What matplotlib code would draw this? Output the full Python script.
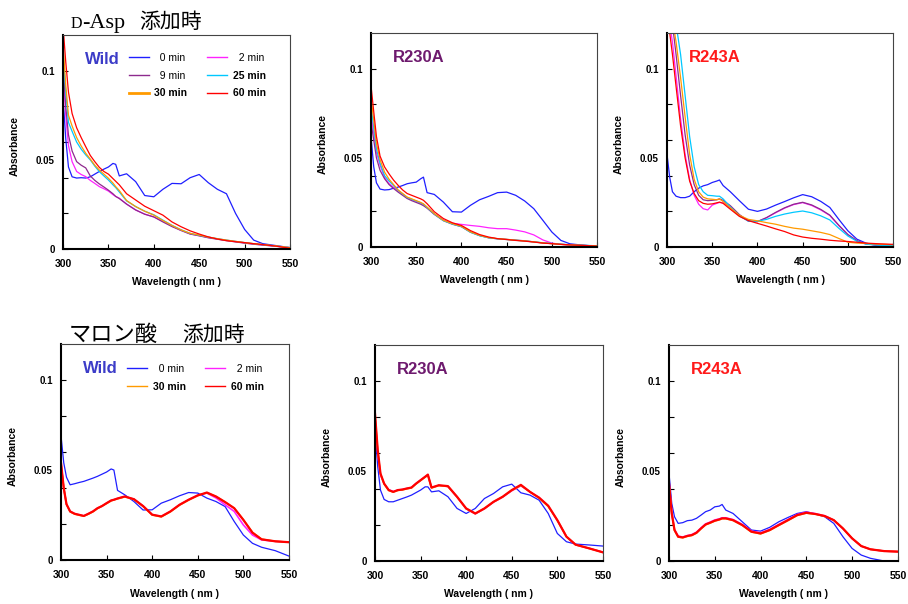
import matplotlib
matplotlib.use("Agg")
import matplotlib.pyplot as plt
from matplotlib.lines import Line2D

plt.rcParams['font.family'] = ['Liberation Sans', 'Noto Sans CJK JP', 'DejaVu Sans']

# wavelength grid (nm) shared by every trace
wl = [300, 303, 306, 310, 315, 320, 325, 330, 335, 340, 345, 350, 355, 358, 362,
      370, 380, 390, 400, 410, 420, 430, 440, 450, 460, 470, 480, 490, 500, 510,
      520, 535, 550]

# ---- D-Asp added : Wild ----
asp_wild_0 = [.085, .062, .046, .0405, .0398, .040, .0398, .0405, .042, .0435, .0448, .046, .048, .0475, .041,
              .0422, .0378, .030, .0293, .0335, .0368, .0366, .040, .0418, .0372, .0335, .031, .020, .011, .005,
              .003, .0019, .0008]
asp_wild_2 = [.100, .075, .058, .049, .0435, .0418, .0406, .0385, .0368, .035, .0338, .0325, .0305, .0295, .0285,
              .0252, .0219, .0196, .018, .0155, .0128, .0105, .0085, .0075, .0065, .0057, .0049, .0042, .0034, .0028,
              .0023, .0016, .0008]
asp_wild_9 = [.105, .080, .064, .055, .049, .047, .0455, .041, .0385, .0365, .0348, .033, .031, .0295, .0283,
              .0252, .0219, .0195, .018, .0152, .0126, .0104, .0084, .0074, .0063, .0055, .0047, .004, .0033, .0027,
              .0022, .0015, .0006]
asp_wild_25 = [.110, .088, .071, .066, .060, .056, .0528, .050, .0465, .0434, .041, .0387, .036, .0345, .032,
               .027, .0238, .0212, .0192, .0162, .0133, .0108, .0088, .0077, .0067, .0058, .005, .0043, .0036, .003,
               .0025, .0017, .0008]
asp_wild_30 = [.115, .092, .075, .069, .0625, .0578, .0537, .0505, .047, .0443, .042, .0397, .037, .035, .0328,
               .0272, .0238, .0212, .019, .016, .0132, .0107, .0088, .0078, .0067, .0058, .005, .0043, .0036, .003,
               .0025, .0017, .0008]
asp_wild_60 = [.125, .105, .088, .076, .068, .0625, .0574, .0525, .049, .0458, .0435, .042, .0395, .038, .036,
               .031, .0275, .024, .0215, .019, .0152, .0125, .0102, .0084, .0068, .0056, .0047, .0041, .0036, .003,
               .0025, .0016, .0004]

# ---- D-Asp added : R230A ----
asp_r230_0 = [.062, .045, .036, .0325, .032, .0322, .033, .0336, .0345, .0355, .036, .0364, .0383, .0392, .0305,
              .0295, .0252, .0198, .0196, .0234, .0265, .0284, .0305, .0308, .029, .0258, .0215, .015, .0084, .0037,
              .0018, .001, .0005]
asp_r230_2 = [.075, .064, .053, .046, .039, .0355, .0335, .0315, .0295, .0276, .0265, .0255, .0245, .0237, .022,
              .0185, .0152, .0133, .0127, .0121, .0116, .0108, .0103, .0103, .0095, .0085, .0068, .004, .0022, .0015,
              .0012, .0009, .0006]
asp_r230_9 = [.070, .060, .050, .043, .0383, .035, .0328, .0308, .029, .0272, .026, .025, .024, .0232, .0218,
              .0183, .0148, .0128, .0114, .0083, .0064, .0052, .0046, .0043, .0039, .0035, .0029, .0023, .0019, .0015,
              .0012, .0009, .0005]
asp_r230_25 = [.079, .067, .055, .047, .040, .037, .0345, .0318, .0298, .0278, .0268, .0258, .0248, .024, .0222,
               .0185, .0148, .0129, .0114, .0083, .0064, .0052, .0046, .0042, .0038, .0034, .0029, .0024, .002, .0016,
               .0013, .001, .0007]
asp_r230_30 = [.084, .071, .058, .049, .042, .038, .035, .032, .030, .028, .027, .026, .025, .0242, .0224,
               .0187, .015, .0131, .0116, .0085, .0066, .0053, .0047, .0043, .0038, .0034, .0029, .0023, .0019, .0015,
               .0012, .0009, .0006]
asp_r230_60 = [.0905, .076, .062, .051, .0449, .041, .0375, .0346, .032, .030, .029, .028, .027, .0262, .0243,
               .0198, .016, .0136, .0121, .0092, .007, .0056, .0047, .0042, .0037, .0033, .0028, .0022, .0019, .0015,
               .0012, .0009, .0005]

# ---- D-Asp added : R243A ----
asp_r243_0 = [.052, .039, .031, .0285, .0277, .0277, .0285, .031, .033, .0343, .035, .0362, .037, .0376, .0345,
              .031, .026, .0212, .020, .0213, .0235, .0255, .0276, .0294, .0282, .0256, .0222, .0155, .0091, .0044,
              .0022, .0005, .0006]
asp_r243_2 = [.130, .125, .115, .096, .072, .052, .038, .029, .024, .0215, .0208, .0235, .0245, .025, .0248,
              .0225, .0178, .0145, .0142, .0164, .0192, .0218, .0238, .0249, .0233, .0208, .0177, .012, .0069, .0035,
              .0017, .001, .0006]
asp_r243_9 = [.130, .130, .125, .108, .085, .063, .046, .035, .029, .0265, .026, .0262, .0265, .027, .0262,
              .0232, .0182, .0146, .0143, .0165, .0194, .022, .024, .0251, .0236, .0211, .0179, .0122, .007, .0036,
              .0018, .001, .0006]
asp_r243_25 = [.130, .130, .130, .125, .108, .085, .062, .045, .035, .031, .029, .0288, .0285, .0285, .027,
               .0225, .0175, .0145, .0145, .0155, .0172, .0185, .0195, .0202, .0192, .0175, .0152, .0105, .0062, .0032,
               .0016, .001, .0008]
asp_r243_30 = [.130, .130, .128, .115, .095, .073, .052, .038, .031, .028, .027, .0268, .0265, .027, .0255,
               .022, .0178, .0155, .0147, .0137, .0128, .0116, .0106, .010, .0091, .0082, .007, .0048, .0027, .0022,
               .002, .0016, .0013]
asp_r243_60 = [.130, .120, .108, .090, .068, .050, .037, .030, .026, .0245, .024, .0242, .0248, .0252, .0245,
               .0212, .0172, .0148, .0133, .0118, .0102, .0087, .0068, .0056, .0049, .0044, .0038, .0034, .0031, .0027,
               .0022, .0018, .0015]

# ---- malonate added : Wild ----
mal_wild_0 = [.069, .054, .046, .0418, .0424, .0431, .0437, .0446, .0455, .0465, .0477, .0489, .0506, .050, .0387,
              .0362, .0325, .0278, .0279, .0316, .0335, .0357, .0375, .0372, .0344, .0325, .0297, .0214, .0139, .0093,
              .0071, .0052, .0022]
mal_wild_2 = [.054, .040, .031, .027, .0257, .0251, .0245, .0257, .027, .0288, .030, .0316, .0331, .0335, .0342,
              .0353, .0338, .030, .0252, .0242, .027, .0307, .0335, .0361, .0372, .0345, .0307, .027, .0195, .0139,
              .0112, .0104, .0099]
mal_wild_30 = [.053, .040, .031, .0268, .0255, .0249, .0244, .0255, .0268, .0286, .030, .0314, .0329, .0334, .034,
               .0351, .0337, .0298, .0250, .024, .0268, .0305, .0333, .0358, .0374, .0353, .0322, .0288, .0225, .0154,
               .0116, .0104, .0099]
mal_wild_60 = [.054, .040, .031, .027, .0257, .0251, .0245, .0257, .027, .0288, .030, .0316, .0331, .0335, .0342,
               .0353, .0338, .030, .0252, .0242, .027, .0307, .0335, .0359, .0375, .0353, .0322, .0288, .0223, .0152,
               .0115, .0104, .0099]

# ---- malonate added : R230A ----
mal_r230_0 = [.0726, .0523, .0394, .0342, .0329, .0329, .0338, .0347, .0356, .0366, .038, .0394, .0412, .0412, .0384,
              .039, .0357, .0292, .0264, .0292, .0347, .0375, .0412, .0427, .0379, .0366, .0338, .0264, .0153, .0107,
              .0094, .0089, .0083]
mal_r230_2 = [.080, .060, .048, .043, .0396, .0386, .0394, .0397, .0403, .0408, .043, .0449, .0468, .0478, .0408,
              .042, .0414, .0355, .029, .0262, .029, .0327, .0355, .039, .0418, .0384, .0352, .0305, .0225, .0136,
              .009, .007, .0049]
mal_r230_30 = [.081, .061, .0483, .0428, .0392, .0383, .0392, .0395, .0401, .0406, .0428, .0447, .0466, .0476, .0406,
               .0419, .0414, .0356, .0291, .0263, .0291, .0328, .0356, .0392, .042, .0384, .0349, .0303, .0226, .0136,
               .009, .007, .0048]
mal_r230_60 = [.0819, .0616, .0486, .043, .0394, .0384, .0394, .0397, .0403, .0408, .043, .0449, .0468, .048, .0408,
               .0421, .0416, .0357, .0292, .0264, .0292, .0329, .0357, .0394, .0423, .0384, .0352, .0307, .0227, .0135,
               .0091, .007, .0048]

# ---- malonate added : R243A ----
mal_r243_0 = [.0486, .032, .0246, .0209, .0213, .0224, .0227, .0237, .0255, .0274, .0283, .0301, .0305, .0314, .0283,
              .0264, .0218, .0172, .0166, .0187, .0218, .0242, .0264, .0274, .0261, .0246, .0209, .0135, .007, .0033,
              .0015, .0, .0]
mal_r243_2 = [.044, .027, .0175, .0138, .0133, .0141, .0147, .016, .0184, .0206, .0216, .0228, .0234, .024, .024,
              .023, .0203, .0166, .0156, .0175, .0203, .023, .0258, .0271, .0263, .0251, .0227, .018, .0125, .0083,
              .0065, .0055, .0052]
mal_r243_30 = [.043, .0262, .017, .0133, .0129, .0137, .0142, .0155, .0179, .0201, .0211, .0222, .0229, .0235, .0235,
               .0225, .0198, .0161, .0151, .017, .0198, .0225, .0253, .0266, .026, .0249, .0227, .0181, .0126, .0083,
               .0065, .0055, .0052]
mal_r243_60 = [.043, .0264, .0172, .0135, .0131, .0139, .0144, .0157, .0181, .0203, .0213, .0224, .0231, .0237, .0237,
               .0227, .020, .0163, .0153, .0172, .020, .0227, .0255, .0268, .0261, .025, .0227, .0181, .0126, .0083,
               .0065, .0055, .0052]

times6 = ['0 min', '2 min', '9 min', '25 min', '30 min', '60 min']
times4 = ['0 min', '2 min', '30 min', '60 min']
col = {'0 min': '#1f1fff', '2 min': '#ff22ff', '9 min': '#8e2a8e',
       '25 min': '#00c8ff', '30 min': '#ff9a00', '60 min': '#ff0000'}
bold_labels = {'25 min', '30 min', '60 min'}

panels = [
    ([0.0694, 0.5877, 0.250, 0.3543], 'Wild', '#3c3cc8', times6,
     [asp_wild_0, asp_wild_2, asp_wild_9, asp_wild_25, asp_wild_30, asp_wild_60]),
    ([0.4086, 0.5910, 0.249, 0.3543], 'R230A', '#6e1a6e', times6,
     [asp_r230_0, asp_r230_2, asp_r230_9, asp_r230_25, asp_r230_30, asp_r230_60]),
    ([0.7346, 0.5910, 0.249, 0.3543], 'R243A', '#ff1a1a', times6,
     [asp_r243_0, asp_r243_2, asp_r243_9, asp_r243_25, asp_r243_30, asp_r243_60]),
    ([0.0672, 0.0728, 0.251, 0.3576], 'Wild', '#3c3cc8', times4,
     [mal_wild_0, mal_wild_2, mal_wild_30, mal_wild_60]),
    ([0.4130, 0.0712, 0.251, 0.3576], 'R230A', '#6e1a6e', times4,
     [mal_r230_0, mal_r230_2, mal_r230_30, mal_r230_60]),
    ([0.7368, 0.0712, 0.252, 0.3576], 'R243A', '#ff1a1a', times4,
     [mal_r243_0, mal_r243_2, mal_r243_30, mal_r243_60]),
]

fig = plt.figure(figsize=(9.08, 6.04), dpi=100)

for i, (rect, name, ncolor, times, series) in enumerate(panels):
    ax = fig.add_axes(rect)
    bottom_row = i >= 3
    for t, y in zip(times, series):
        lw = 0.9
        if bottom_row and t == '60 min':
            lw = 1.6
        elif bottom_row and t != '0 min':
            lw = 1.2
        ax.plot(wl, y, color=col[t], lw=lw)

    ax.set_xlim(300, 550)
    ax.set_ylim(0, 0.12)
    ax.set_xticks([300, 350, 400, 450, 500, 550])
    ax.set_yticks([0, 0.02, 0.04, 0.06, 0.08, 0.1], ['0', '', '', '', '', '0.1'])
    ax.set_yticks([0.05], ['0.05'], minor=True)
    ax.tick_params(direction='in', length=3.5, width=0.8, labelsize=7, pad=6)
    ax.tick_params(axis='x', labelsize=7.5, pad=7)
    ax.tick_params(axis='y', which='minor', length=0, labelsize=7, pad=6)
    for lab in ax.get_xticklabels() + ax.get_yticklabels() + ax.get_yticklabels(minor=True):
        lab.set_fontweight('bold')
    for s in ['left', 'bottom']:
        ax.spines[s].set_linewidth(1.5)
    for s in ['top', 'right']:
        ax.spines[s].set_linewidth(0.8)
        ax.spines[s].set_color('#444444')

    ax.set_xlabel('Wavelength ( nm )', fontsize=7.5, fontweight='bold')
    ax.xaxis.set_label_coords(0.5, -0.155)
    ax.xaxis.label.set_va('center')
    ax.set_ylabel('Absorbance', fontsize=7.5, fontweight='bold')
    ax.yaxis.set_label_coords(-0.19, 0.48)

    ax.text(0.095, 0.885, name, transform=ax.transAxes, color=ncolor,
            fontsize=12, fontweight='bold', ha='left', va='center')

    if name == 'Wild':
        if len(times) == 6:
            order = ['0 min', '9 min', '30 min', '2 min', '25 min', '60 min']
            anchor_y = 0.916
        else:
            order = ['0 min', '30 min', '2 min', '60 min']
            anchor_y = 0.907
        labels = [('  ' + t) if len(t) == 5 else t for t in order]
        hs = [Line2D([], [], color=col[t],
                     lw=2.0 if (t == '30 min' and len(times) == 6) else 1.0) for t in order]
        leg = ax.legend(hs, labels, ncol=2, loc='upper left', bbox_to_anchor=(0.29, anchor_y),
                        frameon=False, fontsize=7.5, handlelength=1.9, handletextpad=0.55,
                        columnspacing=1.9, labelspacing=0.73, borderpad=0, borderaxespad=0)
        for t, txt in zip(order, leg.get_texts()):
            if t in bold_labels:
                txt.set_fontweight('bold')

# section titles
fig.text(71 / 908, 1 - 28 / 604, 'D', fontsize=11.5, family='Liberation Serif', va='baseline')
fig.text(82 / 908, 1 - 28 / 604, '-Asp', fontsize=16, family='Liberation Serif', va='baseline')
fig.text(139 / 908, 1 - 28 / 604, '添加時', fontsize=15, family='Noto Sans CJK JP', va='baseline')
fig.text(69 / 908, 1 - 341 / 604, 'マロン酸', fontsize=16, family='Noto Sans CJK JP', va='baseline')
fig.text(182 / 908, 1 - 341 / 604, '添加時', fontsize=15, family='Noto Sans CJK JP', va='baseline')

fig.savefig('out.png', dpi=100)
